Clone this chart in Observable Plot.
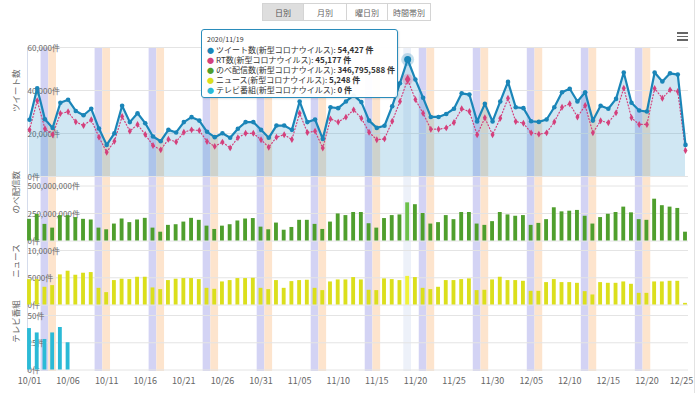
<!DOCTYPE html>
<html><head><meta charset="utf-8">
<script src="https://cdn.jsdelivr.net/npm/d3@7"></script>
<script src="https://cdn.jsdelivr.net/npm/@observablehq/plot@0.6"></script>
<style>
body{margin:0;background:#fff;font-family:"Noto Sans CJK JP","Noto Sans",sans-serif;}
#wrap{position:relative;width:700px;height:393px;overflow:hidden;background:#fff;}
#wrap svg{position:absolute;left:0;top:0;}
.btns{position:absolute;top:3px;left:263px;display:flex;}
.btn{box-sizing:border-box;height:18px;border:1px solid #d4d4d4;margin-left:-1px;font-size:8px;color:#666;display:flex;align-items:center;justify-content:center;background:#fff;}
.btn.sel{background:#dedede;color:#555;}
.menu{position:absolute;left:677px;top:32px;width:11px;}
.menu div{height:1.6px;background:#666;margin-bottom:2px;}
.rborder{position:absolute;left:694px;top:0;width:1px;height:393px;background:#e2e2e2;}
.tip{position:absolute;left:201px;top:29px;width:197px;height:69px;box-sizing:border-box;border:1px solid #2a8cbb;border-radius:3px;background:rgba(255,255,255,0.94);padding:5px 0 0 5px;font-size:8px;line-height:10px;color:#333;box-shadow:1px 1px 2px rgba(0,0,0,0.12);white-space:nowrap;}
.tip .date{font-size:7px;line-height:9px;margin-bottom:1px;}
.tip b{font-weight:bold;}
.tip .dot{font-size:7px;margin-right:2px;}
</style></head>
<body>
<div id="wrap"></div>
<script>
// ---- data ----
const startDate = "2020-10-01";
const endDate = "2020-12-25";
const tickLabels = ["10/01","10/06","10/11","10/16","10/21","10/26","10/31","11/05","11/10","11/15","11/20","11/25","11/30","12/05","12/10","12/15","12/20","12/25"];
const seriesNames = ["ツイート数(新型コロナウイルス)","RT数(新型コロナウイルス)","のべ配信数(新型コロナウイルス)","ニュース(新型コロナウイルス)","テレビ番組(新型コロナウイルス)"];
const panelTitles = ["ツイート数","のべ配信数","ニュース","テレビ番組"];
const buttonLabels = ["日別","月別","曜日別","時間帯別"];
const hoverDate = "2020-11-19";

const tweets = [26400,41000,26600,22600,34300,35700,30500,28500,31500,22300,
  14700,20100,32900,25300,29400,24800,18600,16400,21700,20500,
  25300,27600,26000,20800,18300,20100,18000,22200,25300,25300,
  21700,18000,23700,23700,21700,34900,25300,26500,17500,32200,
  31800,34900,37700,34600,26000,22600,23600,32700,43400,54427,
  45100,36600,27700,27700,29100,31500,38700,38100,25600,33800,
  25600,34900,44000,32200,31800,25700,25400,26500,32200,39200,
  40800,34900,39200,26000,32900,31500,36100,48400,34300,30700,
  30200,48400,44200,48000,47400,14700];
const rts = [21700,35200,22200,19400,29300,30100,25400,23700,26400,18300,
  11300,16400,27900,21100,24200,19500,14400,12400,17300,16100,
  20600,21700,21400,16300,14000,16000,13300,18000,20100,20100,
  17100,13600,18300,19400,17200,29400,20500,21100,13200,26800,
  25300,27600,31000,27100,20600,17100,17500,25700,34900,45177,
  35800,29400,22000,22000,22600,25100,31500,30200,19400,27300,
  19400,27100,36400,25600,24800,20300,19700,20300,25400,32200,
  33800,27700,33000,20300,25900,25000,29600,41100,27300,24200,
  24200,40900,36400,40300,39500,12100];
const views = [197000000,241000000,151000000,117000000,231000000,231000000,213000000,197000000,191000000,117000000,
  102000000,154000000,200000000,167000000,191000000,206000000,117000000,80000000,142000000,148000000,
  172000000,206000000,188000000,135000000,105000000,135000000,148000000,182000000,200000000,204000000,
  126000000,102000000,163000000,98000000,123000000,188000000,188000000,151000000,105000000,172000000,
  246000000,231000000,259000000,259000000,157000000,117000000,204000000,231000000,237000000,346795588,
  330000000,250000000,154000000,167000000,231000000,194000000,259000000,259000000,154000000,142000000,
  176000000,259000000,237000000,225000000,231000000,142000000,160000000,194000000,302000000,265000000,
  271000000,278000000,225000000,154000000,213000000,243000000,259000000,308000000,256000000,194000000,
  188000000,380000000,321000000,308000000,296000000,80000000];
const news = [4660,4660,3250,3560,5520,6200,5460,5830,5950,3060,
  2270,4480,4730,4660,5090,5090,3130,2820,4480,4730,
  4850,4850,4660,3060,2880,4230,4480,4850,4850,4910,
  3060,2820,4480,3060,4290,4480,4540,3060,2640,4230,
  4600,4600,5030,4600,2700,2640,4790,4660,4480,5248,
  5030,3060,2820,3250,4480,4480,4660,4790,2640,2700,
  4600,5090,4480,4480,4350,2510,2510,4110,4660,4110,
  4110,3980,2450,1840,4110,3980,3980,4230,3800,2140,
  2140,4230,4230,4350,4350,300];
const tv = [38,34,28,34,39,25,0,0,0,0, 0,0,0,0,0,0,0,0,0,0, 0,0,0,0,0,0,0,0,0,0,
  0,0,0,0,0,0,0,0,0,0, 0,0,0,0,0,0,0,0,0,0, 0,0,0,0,0,0,0,0,0,0,
  0,0,0,0,0,0,0,0,0,0, 0,0,0,0,0,0,0,0,0,0, 0,0,0,0,0,0];
const tweetTicks = [0,20000,40000,60000];
const viewTicks = [0,250000000,500000000];
const newsTicks = [0,5000,10000];
const tvTicks = [0,25,50];

// ---- build ----
const W = 700, H = 393, ML = 29, MR = 15;
const FONT = '"Noto Sans CJK JP","Noto Sans",sans-serif';
const parse = d3.utcParse("%Y-%m-%d");
const d0 = parse(startDate), d1 = parse(endDate);
const dates = d3.utcDay.range(d0, d3.utcDay.offset(d1, 1));
const hoverT = +parse(hoverDate);
const rows = dates.map((date, i) => ({date, i, tweets: tweets[i], rt: rts[i], views: views[i], news: news[i], tv: tv[i], dow: date.getUTCDay(), hover: +date === hoverT}));
const hov = rows.find(d => d.hover);
const off = h => d => new Date(+d.date + h * 3600e3);
const tickDates = tickLabels.map(s => new Date(Date.UTC(2020, +s.slice(0,2) - 1, +s.slice(3))));
const xOpt = {type: "utc", domain: [d0, d1], axis: null};
const labFmt = v => (v >= 10000 ? d3.format(",")(v) : String(v)) + "件";
const style = {background: "transparent", overflow: "visible", fontFamily: FONT};
const xFmt = d3.utcFormat("%m/%d");

const wrap = document.getElementById("wrap");

// background: weekend bands, hover column, x axis
const bg = Plot.plot({
  width: W, height: H, marginLeft: ML, marginRight: MR, marginTop: 47, marginBottom: 22,
  style, x: {...xOpt, axis: null},
  marks: [
    Plot.rect(rows.filter(d => d.dow === 6), {x1: off(-12), x2: off(12), fill: "#d3d3f4"}),
    Plot.rect(rows.filter(d => d.dow === 0), {x1: off(-12), x2: off(12), fill: "#fde4cd"}),
    Plot.rect([hov], {x1: off(-12), x2: off(12), fill: "#edf1f9"}),
    Plot.ruleX([d0], {dx: -2, stroke: "#d5dcec", insetBottom: -1}),
    Plot.axisX({ticks: tickDates.slice(0, -1), tickFormat: xFmt, tickSize: 0, tickPadding: 6, fontSize: 9, fill: "#666"}),
    Plot.axisX({ticks: tickDates.slice(-1), tickFormat: xFmt, tickSize: 0, tickPadding: 6, fontSize: 9, fill: "#666", dx: -4})
  ]
});
wrap.appendChild(bg);

function panel(top, bottom, domain, ticks, title, marks) {
  return Plot.plot({
    width: W, height: H, marginLeft: ML, marginRight: MR, marginTop: top, marginBottom: H - bottom,
    style, x: xOpt, y: {domain, axis: null},
    marks: [
      Plot.ruleY(ticks, {stroke: "#e4e4e4", insetLeft: -2, insetRight: -3}),
      Plot.text(ticks, {y: d => d, text: labFmt, frameAnchor: "left", textAnchor: "start", dx: -2, dy: 0.5, fill: "#666", fontSize: 8}),
      Plot.text([title], {frameAnchor: "left", rotate: -90, dx: -13, fill: "#666", fontSize: 8.5}),
      ...marks
    ]
  });
}

const C_TW = "#1a85b8", C_RT = "#d4407c";
wrap.appendChild(panel(47, 176, [0, 60000], tweetTicks, panelTitles[0], [
  Plot.areaY(rows, {x: "date", y: "tweets", fill: "#2a90c8", fillOpacity: 0.22}),
  Plot.lineY(rows, {x: "date", y: "rt", stroke: C_RT, strokeWidth: 1.2, strokeDasharray: "1,2.2", strokeLinecap: "round"}),
  Plot.dot(rows, {x: "date", y: "rt", symbol: "diamond", r: 2.1, fill: C_RT}),
  Plot.lineY(rows, {x: "date", y: "tweets", stroke: C_TW, strokeWidth: 2.2}),
  Plot.dot(rows, {x: "date", y: "tweets", r: 2.3, fill: C_TW}),
  Plot.dot([hov], {x: "date", y: "rt", r: 5.5, fill: C_RT, fillOpacity: 0.22}),
  Plot.dot([hov], {x: "date", y: "rt", symbol: "diamond", r: 3, fill: C_RT}),
  Plot.dot([hov], {x: "date", y: "tweets", r: 6.5, fill: C_TW, fillOpacity: 0.25}),
  Plot.dot([hov], {x: "date", y: "tweets", r: 3.5, fill: C_TW})
]));
wrap.appendChild(panel(185.5, 240.5, [0, 500000000], viewTicks, panelTitles[1], [
  Plot.rectY(rows.filter(d => !d.hover), {x1: off(-6), x2: off(6), y: "views", fill: "#4f9f2d"}),
  Plot.rectY([hov], {x1: off(-6), x2: off(6), y: "views", fill: "#6cc04a"})
]));
wrap.appendChild(panel(250, 304.5, [0, 10000], newsTicks, panelTitles[2], [
  Plot.rectY(rows.filter(d => !d.hover), {x1: off(-6), x2: off(6), y: "news", fill: "#dbdf1c"}),
  Plot.rectY([hov], {x1: off(-6), x2: off(6), y: "news", fill: "#f0f236"})
]));
wrap.appendChild(panel(315, 369.5, [0, 50], tvTicks, panelTitles[3], [
  Plot.rectY(rows.filter(d => d.tv > 0), {x1: off(-6), x2: off(6), y: "tv", fill: "#2bbad6"})
]));

// HTML chrome: buttons, menu, tooltip
const btnW = [42, 44, 42, 44];
const btns = document.createElement("div");
btns.className = "btns";
buttonLabels.forEach((t, i) => {
  const b = document.createElement("div");
  b.className = "btn" + (i === 0 ? " sel" : "");
  b.style.width = btnW[i] + "px";
  b.textContent = t;
  btns.appendChild(b);
});
wrap.appendChild(btns);
const menu = document.createElement("div");
menu.className = "menu";
menu.innerHTML = "<div></div><div></div><div></div>";
wrap.appendChild(menu);
const rb = document.createElement("div"); rb.className = "rborder"; wrap.appendChild(rb);

const tipColors = [C_TW, C_RT, "#4f9f2d", "#dbdf1c", "#2bbad6"];
const tipVals = [hov.tweets, hov.rt, hov.views, hov.news, hov.tv];
const tip = document.createElement("div");
tip.className = "tip";
let html = `<div class="date">${d3.utcFormat("%Y/%m/%d")(hov.date)}</div>`;
seriesNames.forEach((n, i) => {
  html += `<div><span class="dot" style="color:${tipColors[i]}">●</span>${n}: <b>${d3.format(",")(tipVals[i])} 件</b></div>`;
});
tip.innerHTML = html;
wrap.appendChild(tip);
</script>
</body></html>
